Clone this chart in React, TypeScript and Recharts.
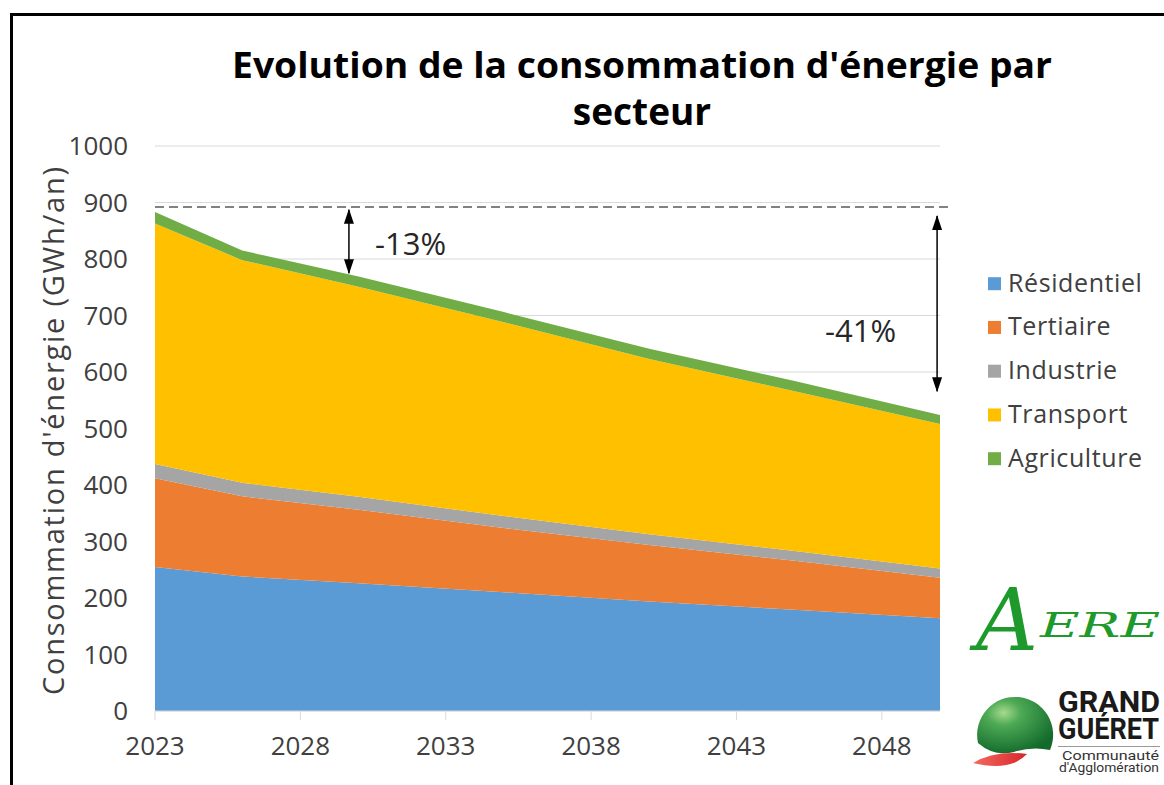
import React from 'react';
import { AreaChart, Area, XAxis, YAxis, CartesianGrid, ReferenceLine } from 'recharts';

// ---- data (GWh/an, per sector, stacked) ----
const YEARS = [2023, 2026, 2030, 2035, 2040, 2045, 2050];
const RESIDENTIEL = [255, 238, 226, 210, 194, 179, 164];
const TERTIAIRE = [157, 142, 130, 114, 100, 87, 72];
const INDUSTRIE = [25, 24, 23, 21, 19, 17, 16];
const TRANSPORT = [426, 394, 372, 343, 310, 283, 256];
const AGRICULTURE = [20, 17, 18, 18, 18, 18, 16];

const SERIES_KEYS = ['residentiel', 'tertiaire', 'industrie', 'transport', 'agriculture'];
const SERIES_NAMES = ['Résidentiel', 'Tertiaire', 'Industrie', 'Transport', 'Agriculture'];
const SERIES_COLORS = ['#5B9BD5', '#ED7D31', '#A5A5A5', '#FFC000', '#70AD47'];

const X_TICKS = [2023, 2028, 2033, 2038, 2043, 2048];
const Y_TICKS = [0, 100, 200, 300, 400, 500, 600, 700, 800, 900, 1000];

const REF_LEVEL = 892;
const REF_END_YEAR = 2050.4;
const ARROW_13 = { year: 2029.67, from: 887, to: 775, label: '-13%' };
const ARROW_41 = { year: 2049.9, from: 876, to: 566, label: '-41%' };

const TITLE_LINES = ["Evolution de la consommation d'énergie par", 'secteur'];
const Y_LABEL = "Consommation d'énergie (GWh/an)";

const data = YEARS.map((year, i) => ({
  year,
  residentiel: RESIDENTIEL[i],
  tertiaire: TERTIAIRE[i],
  industrie: INDUSTRIE[i],
  transport: TRANSPORT[i],
  agriculture: AGRICULTURE[i],
}));

const arrowShape = (p: any) => (
  <line
    x1={p.x1}
    y1={p.y1}
    x2={p.x2}
    y2={p.y2}
    stroke="#000"
    strokeWidth={1.5}
    markerStart="url(#arrowHead)"
    markerEnd="url(#arrowHead)"
  />
);

const FONT = "'Open Sans', 'DejaVu Sans', sans-serif";

export default function App() {
  return (
    <div
      style={{
        position: 'absolute',
        left: 0,
        top: 0,
        width: 1164,
        height: 785,
        background: '#fff',
        overflow: 'hidden',
        fontFamily: FONT,
      }}
    >
      {/* frame */}
      <div
        style={{
          position: 'absolute',
          left: 10,
          top: 13,
          width: 1300,
          height: 900,
          borderLeft: '3px solid #000',
          borderTop: '3px solid #000',
        }}
      />
      <svg width={0} height={0} style={{ position: 'absolute' }}>
        <defs>
          <marker
            id="arrowHead"
            viewBox="0 0 15 10"
            refX={14}
            refY={5}
            markerWidth={15}
            markerHeight={10}
            markerUnits="userSpaceOnUse"
            orient="auto-start-reverse"
          >
            <path d="M0,0 L15,5 L0,10 z" fill="#000" />
          </marker>
        </defs>
      </svg>

      <div style={{ position: 'absolute', left: 0, top: 0 }}>
        <AreaChart
          width={1164}
          height={785}
          data={data}
          margin={{ top: 146, right: 224, bottom: 24, left: 55 }}
        >
          <CartesianGrid vertical={false} stroke="#D9D9D9" strokeWidth={1} />
          <XAxis
            dataKey="year"
            type="number"
            domain={[2023, 2050]}
            ticks={X_TICKS}
            interval={0}
            height={50}
            tickSize={9}
            tickMargin={17}
            axisLine={{ stroke: '#D9D9D9' }}
            tickLine={{ stroke: '#D9D9D9' }}
            tick={{ fontSize: 26, fill: '#404040', fontFamily: FONT }}
          />
          <YAxis
            type="number"
            domain={[0, 1000]}
            ticks={Y_TICKS}
            interval={0}
            width={100}
            axisLine={false}
            tickLine={false}
            tickSize={0}
            tickMargin={27}
            tick={{ fontSize: 26, fill: '#404040', fontFamily: FONT }}
          />
          {SERIES_KEYS.map((k, i) => (
            <Area
              key={k}
              type="linear"
              dataKey={k}
              name={SERIES_NAMES[i]}
              stackId="1"
              fill={SERIES_COLORS[i]}
              fillOpacity={1}
              stroke="none"
              dot={false}
              activeDot={false}
              isAnimationActive={false}
            />
          ))}
          <ReferenceLine
            segment={[
              { x: 2023, y: REF_LEVEL },
              { x: REF_END_YEAR, y: REF_LEVEL },
            ]}
            stroke="#595959"
            strokeWidth={1.5}
            strokeDasharray="9 5"
            ifOverflow="visible"
          />
          <ReferenceLine
            segment={[
              { x: ARROW_13.year, y: ARROW_13.from },
              { x: ARROW_13.year, y: ARROW_13.to },
            ]}
            ifOverflow="visible"
            shape={arrowShape}
          />
          <ReferenceLine
            segment={[
              { x: ARROW_41.year, y: ARROW_41.from },
              { x: ARROW_41.year, y: ARROW_41.to },
            ]}
            ifOverflow="visible"
            shape={arrowShape}
          />
        </AreaChart>
      </div>

      {/* overlay texts, legend and logos */}
      <svg
        width={1164}
        height={785}
        style={{ position: 'absolute', left: 0, top: 0, pointerEvents: 'none' }}
        fontFamily={FONT}
      >
        <defs>
          <radialGradient id="ggGreen" cx="35%" cy="28%" r="75%">
            <stop offset="0" stopColor="#A8D98E" />
            <stop offset="0.3" stopColor="#4DAA55" />
            <stop offset="1" stopColor="#136A2C" />
          </radialGradient>
          <linearGradient id="ggRed" x1="0" y1="0" x2="1" y2="0">
            <stop offset="0" stopColor="#F36A5E" />
            <stop offset="1" stopColor="#D8262B" />
          </linearGradient>
        </defs>

        {/* title */}
        <text
          x={642}
          y={78}
          textAnchor="middle"
          fontSize={36}
          fontWeight={700}
          fill="#000"
          textLength={820}
          lengthAdjust="spacingAndGlyphs"
        >
          {TITLE_LINES[0]}
        </text>
        <text x={642} y={125} textAnchor="middle" fontSize={37} fontWeight={700} fill="#000">
          {TITLE_LINES[1]}
        </text>

        {/* y-axis title */}
        <text
          x={52}
          y={431}
          transform="rotate(-90 52 431)"
          textAnchor="middle"
          dominantBaseline="central"
          fontSize={29}
          fill="#404040"
          textLength={528}
          lengthAdjust="spacing"
        >
          {Y_LABEL}
        </text>

        {/* percentage labels */}
        <text x={375} y={255} fontSize={31} fill="#262626">
          {ARROW_13.label}
        </text>
        <text x={825} y={342} fontSize={31} fill="#262626">
          {ARROW_41.label}
        </text>

        {/* legend */}
        {SERIES_NAMES.map((name, i) => {
          const base = 291.7 + i * 43.75;
          return (
            <g key={name}>
              <rect x={988} y={base - 14.5} width={13} height={13} fill={SERIES_COLORS[i]} />
              <text x={1008} y={base} fontSize={25} fill="#404040" letterSpacing={0.6}>
                {name}
              </text>
            </g>
          );
        })}

        {/* AERE logo */}
        <text
          x={976}
          y={650}
          fontFamily="'DejaVu Serif', serif"
          fontStyle="italic"
          fontSize={86}
          fill="#1E9A2C"
        >
          A
        </text>
        <text
          x={1040}
          y={637}
          fontFamily="'DejaVu Serif', serif"
          fontStyle="italic"
          fontSize={33}
          fill="#1E9A2C"
          textLength={120}
          lengthAdjust="spacingAndGlyphs"
        >
          ERE
        </text>

        {/* Grand Guéret logo */}
        <path d="M978,743 A38,38 0 1 1 1050,750 Q1032,746 1014,752 Q994,757 978,743 Z" fill="url(#ggGreen)" />
        <path d="M973,763 Q995,750 1027,754 Q1010,772 973,763 Z" fill="url(#ggRed)" />
        <text x={1058} y={711.5} fontFamily="Roboto, sans-serif" fontWeight={700} fontSize={29} fill="#1a1a1a" textLength={102} lengthAdjust="spacingAndGlyphs">
          GRAND
        </text>
        <text x={1058} y={738.5} fontFamily="Roboto, sans-serif" fontWeight={700} fontSize={29} fill="#1a1a1a" textLength={101} lengthAdjust="spacingAndGlyphs">
          GUÉRET
        </text>
        <line x1={1058} y1={746.5} x2={1160} y2={746.5} stroke="#9A9A9A" strokeWidth={1} />
        <text x={1062} y={759.5} fontFamily="Roboto, sans-serif" fontSize={13} fill="#333" textLength={97} lengthAdjust="spacingAndGlyphs">
          Communauté
        </text>
        <text x={1059} y={772} fontFamily="Roboto, sans-serif" fontSize={12.5} fill="#333" textLength={100} lengthAdjust="spacingAndGlyphs">
          d'Agglomération
        </text>
      </svg>
    </div>
  );
}
